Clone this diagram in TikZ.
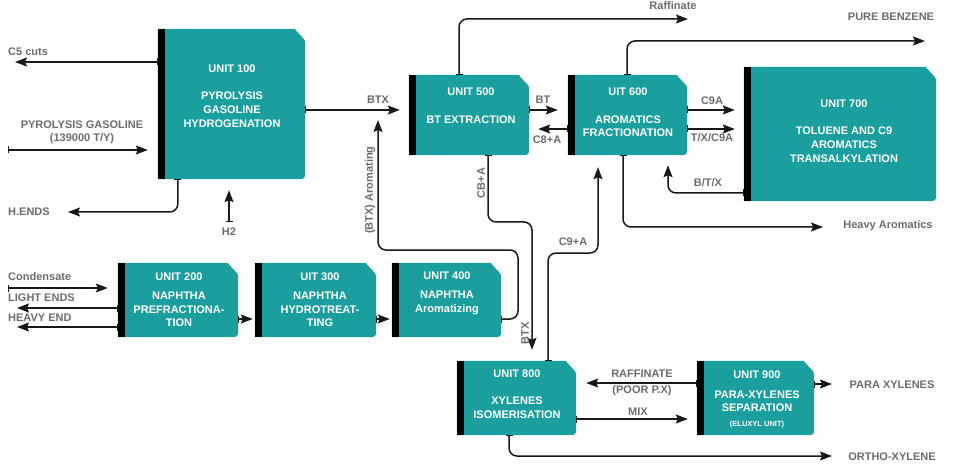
\documentclass[tikz,border=0pt]{standalone}
\usepackage{fontspec}
\setmainfont{Liberation Sans}
\usetikzlibrary{arrows.meta,calc,fit}
\definecolor{unitteal}{RGB}{27,158,158}
\definecolor{lblgray}{RGB}{108,108,108}
\newcommand\unitshape[1]{%
  \fill[unitteal] (#1.south west) -- (#1.north west) -- ([xshift=-12pt]#1.north east)
    .. controls ([xshift=-10pt,yshift=0pt]#1.north east) .. ([xshift=-9pt,yshift=-2pt]#1.north east)
    -- ([xshift=-1.5pt,yshift=-10pt]#1.north east)
    .. controls ([yshift=-11pt]#1.north east) .. ([yshift=-13pt]#1.north east)
    -- ([yshift=9pt]#1.south east) .. controls (#1.south east) .. ([xshift=-9pt]#1.south east) -- cycle;
  \fill[black] (#1.north west) rectangle ([xshift=7pt]#1.south west);}
\begin{document}
\begin{tikzpicture}[x=1pt,y=-1pt,
  unitbox/.style={inner sep=0pt,draw=none},
  unittext/.style={text=white,align=center,inner sep=0pt,font=\bfseries\fontsize{11}{13.7}\selectfont},
  lbl/.style={text=lblgray,inner sep=0pt,align=center,font=\bfseries\fontsize{11}{13}\selectfont},
  flow/.style={draw=black!90,line width=1.5pt,rounded corners=8pt,
    {Bar[width=7pt,line width=1pt]}-{Stealth[length=12pt,width=9pt,inset=2pt]}},
  gap/.style={shorten >=#1}]
\useasboundingbox (0,0) rectangle (962,468);

% units
\node[unitbox,fit={(158,29) (305,179)}] (u100) {};
\node[unitbox,fit={(409,75) (529,155)}] (u500) {};
\node[unitbox,fit={(568,75) (687,155)}] (u600) {};
\node[unitbox,fit={(744,67) (936,201)}] (u700) {};
\node[unitbox,fit={(118,263) (238,337)}] (u200) {};
\node[unitbox,fit={(255,263) (376,337)}] (u300) {};
\node[unitbox,fit={(392,263) (501,337)}] (u400) {};
\node[unitbox,fit={(457,361) (576,435)}] (u800) {};
\node[unitbox,fit={(697,361) (814,435)}] (u900) {};
\unitshape{u100}\unitshape{u500}\unitshape{u600}\unitshape{u700}
\unitshape{u200}\unitshape{u300}\unitshape{u400}\unitshape{u800}\unitshape{u900}

% unit texts
\node[unittext] (t100) at (232,96) {UNIT 100\\[13.7pt]PYROLYSIS\\GASOLINE\\HYDROGENATION};
\node[unittext] (t500) at (471,105.5) {UNIT 500\\[14pt]BT EXTRACTION};
\node[unittext] (t600) at (628,112.5) {UIT 600\\[14pt]AROMATICS\\FRACTIONATION};
\node[unittext] (t700) at (844,131) {UNIT 700\\[13.5pt]TOLUENE AND C9\\AROMATICS\\TRANSALKYLATION};
\node[unittext] (t200) at (179,300) {UNIT 200\\[5pt]NAPHTHA\\PREFRACTIONA-\\TION};
\node[unittext] (t300) at (320,300) {UIT 300\\[5pt]NAPHTHA\\HYDROTREAT-\\TING};
\node[unittext] (t400) at (447,293.5) {UNIT 400\\[5pt]NAPHTHA\\Aromatizing};
\node[unittext] (t800) at (517,394) {UNIT 800\\[13.5pt]XYLENES\\ISOMERISATION};
\node[unittext] (t900) at (757,399.5) {UNIT 900\\[6pt]PARA-XYLENES\\SEPARATION\\[1pt]{\fontsize{7.5}{9}\selectfont (ELUXYL UNIT)}};

% free ends
\coordinate (c5) at (15,62);
\coordinate (pg) at (8,150);
\coordinate (hends) at (68,212);
\coordinate (h2) at (229,222);
\coordinate (btxin) at (378,120);
\coordinate (raff) at (688,19);
\coordinate (benz) at (925,41);
\coordinate (heavy) at (823,227);
\coordinate (px) at (832,384);
\coordinate (ox) at (832,456);
\coordinate (cond) at (8,288);
\coordinate (le) at (17,308);
\coordinate (he) at (17,327);

% connectors
\draw[flow] (u100.west |- c5) -- (c5);
\draw[flow,gap=10pt] (pg) -- (u100.west |- pg);
\draw[flow] ([xshift=20pt]u100.south west) |- (hends);
\draw[flow,gap=11pt] (h2) -- (u100.south -| h2);
\draw[flow,gap=9pt] (u100.east |- 0,110) -- (u500.west |- 0,110);
\draw[flow] (u400.east |- 0,319) -| (518,250) -| (btxin);
\draw[flow,gap=10pt] (u500.east |- 0,110) -- (u600.west |- 0,110);
\draw[flow,gap=9pt] (u600.west |- 0,129) -- (u500.east |- 0,129);
\draw[flow] (u500.north -| 459,0) |- (raff);
\draw[flow] (u600.north -| 627,0) |- (benz);
\draw[flow,gap=9pt] (u600.east |- 0,110) -- (u700.west |- 0,110);
\draw[flow,gap=9pt] (u600.east |- 0,129) -- (u700.west |- 0,129);
\draw[flow,gap=10pt] (u700.west |- 0,193) -| (u600.south -| 668,0);
\draw[flow] (u600.south -| 623,0) |- (heavy);
\draw[flow,gap=11pt] (u500.south -| 488,0) |- (532,222) -- (u800.north -| 532,0);
\draw[flow,gap=12pt] (u800.north -| 548,0) |- (598,253) -- (u600.south -| 598,0);
\draw[flow,gap=10pt] (u900.west |- 0,383) -- (u800.east |- 0,383);
\draw[flow,gap=9pt] (u800.east |- 0,419) -- (u900.west |- 0,419);
\draw[flow] (u900.east |- px) -- (px);
\draw[flow] (u800.south -| 509,0) |- (ox);
\draw[flow,gap=10pt] (cond) -- (u200.west |- cond);
\draw[flow] (u200.west |- le) -- (le);
\draw[flow] (u200.west |- he) -- (he);
\draw[flow,gap=2pt] (u200.east |- 0,319) -- (u300.west |- 0,319);
\draw[flow,gap=2pt] (u300.east |- 0,319) -- (u400.west |- 0,319);

% labels
\node[lbl,anchor=west] (lc5) at (8,52) {C5 cuts};
\node[lbl] (lpg) at (82,132) {PYROLYSIS GASOLINE\\(139000 T/Y)};
\node[lbl,anchor=west] (lhe) at (8,212) {H.ENDS};
\node[lbl] (lh2) at (229,232) {H2};
\node[lbl] (lbtx) at (378,100) {BTX};
\node[lbl,rotate=90] (larom) at (370,190) {(BTX) Aromating};
\node[lbl] (lbt) at (543,100) {BT};
\node[lbl] (lc8) at (547,140) {C8+A};
\node[lbl] (lraff) at (673,6) {Raffinate};
\node[lbl] (lbenz) at (891,17) {PURE BENZENE};
\node[lbl] (lc9a) at (712,101) {C9A};
\node[lbl] (ltx) at (712,138) {T/X/C9A};
\node[lbl] (lbtxr) at (708,183) {B/T/X};
\node[lbl] (lheavy) at (888,226) {Heavy Aromatics};
\node[lbl,rotate=90] (lcb) at (481,183) {CB+A};
\node[lbl,rotate=90] (lbtx2) at (525,333) {BTX};
\node[lbl] (lc9) at (573,242) {C9+A};
\node[lbl,font=\bfseries\fontsize{11}{16}\selectfont] (lraff2) at (642,383) {RAFFINATE\\(POOR P.X)};
\node[lbl] (lmix) at (638,412) {MIX};
\node[lbl] (lpx) at (892,385) {PARA XYLENES};
\node[lbl] (lox) at (892,457) {ORTHO-XYLENE};
\node[lbl,anchor=west] (lcond) at (8,277) {Condensate};
\node[lbl,anchor=west] (lle) at (8,298) {LIGHT ENDS};
\node[lbl,anchor=west] (lhe2) at (8,318) {HEAVY END};
\end{tikzpicture}
\end{document}
